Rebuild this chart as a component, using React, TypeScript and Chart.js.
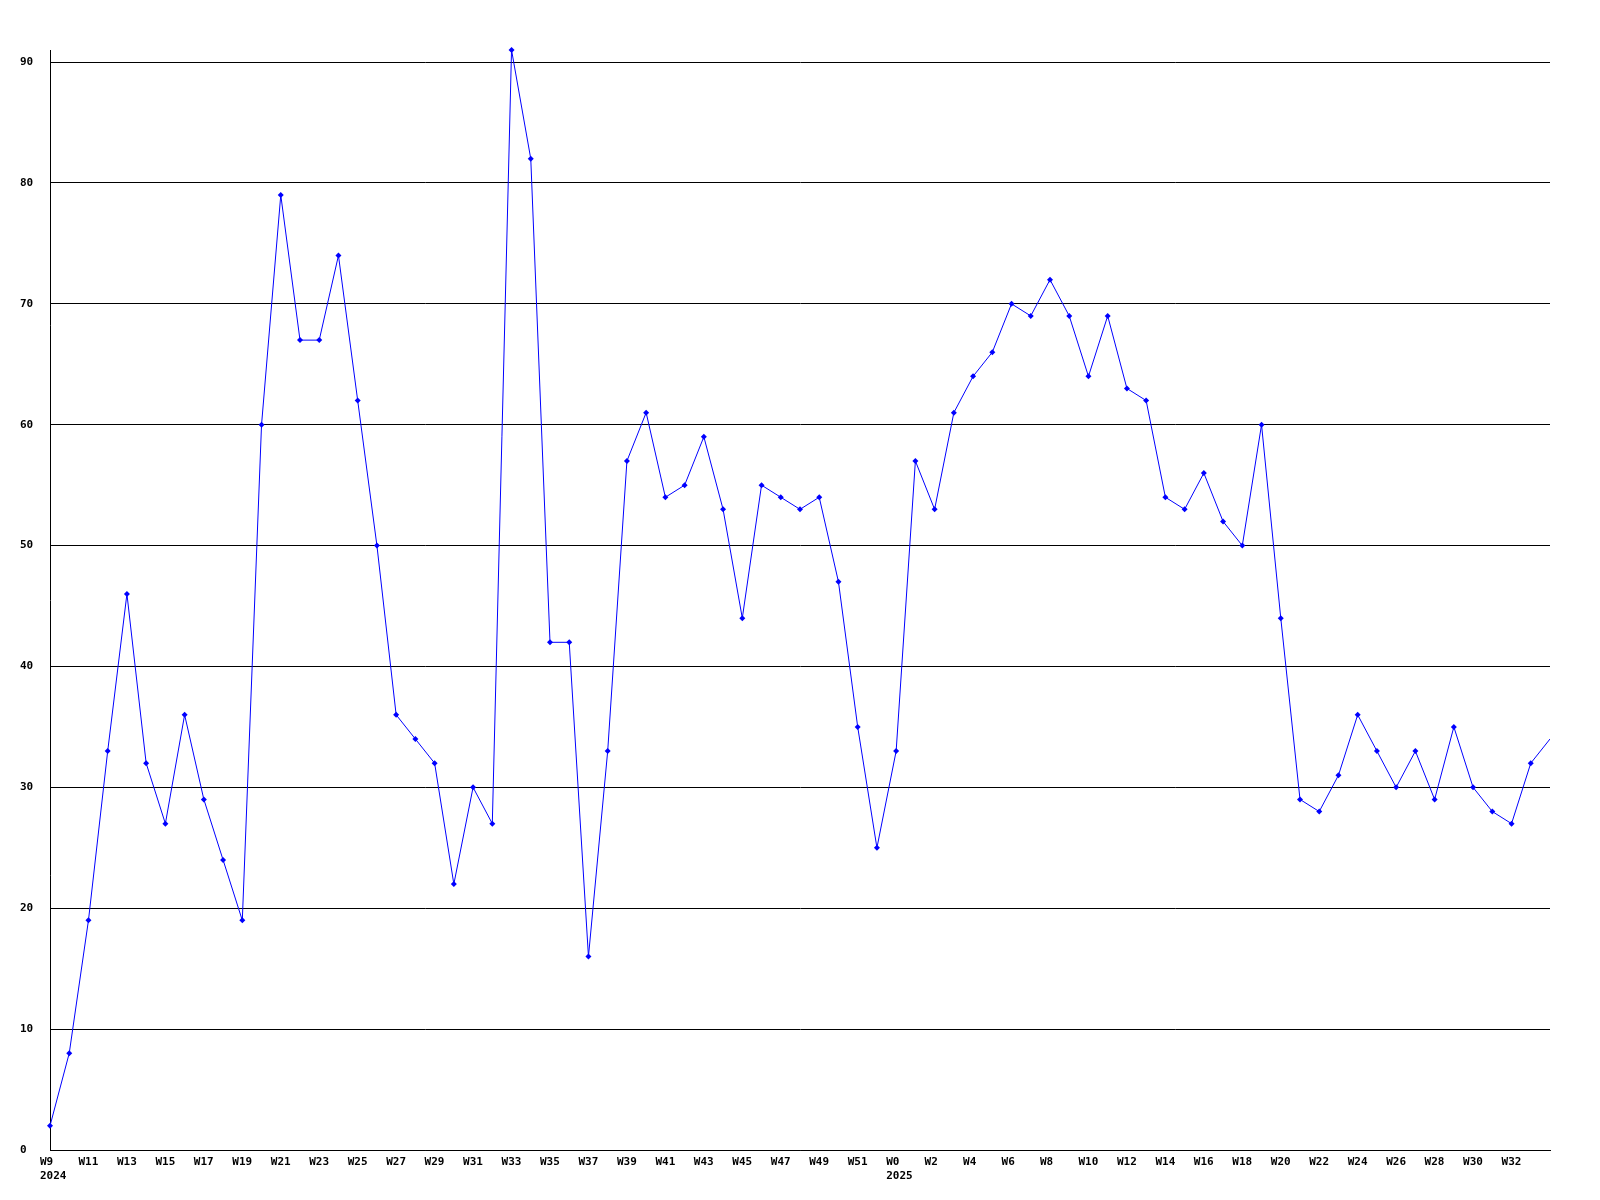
import React, { useEffect, useRef } from "react";
import { Chart, registerables } from "chart.js";

Chart.register(...registerables);

const weeks2024 = [
  "W9", "W10", "W11", "W12", "W13", "W14", "W15", "W16", "W17", "W18",
  "W19", "W20", "W21", "W22", "W23", "W24", "W25", "W26", "W27", "W28",
  "W29", "W30", "W31", "W32", "W33", "W34", "W35", "W36", "W37", "W38",
  "W39", "W40", "W41", "W42", "W43", "W44", "W45", "W46", "W47", "W48",
  "W49", "W50", "W51", "W52",
];
const weeks2025 = [
  "W0", "W1", "W2", "W3", "W4", "W5", "W6", "W7", "W8", "W9",
  "W10", "W11", "W12", "W13", "W14", "W15", "W16", "W17", "W18", "W19",
  "W20", "W21", "W22", "W23", "W24", "W25", "W26", "W27", "W28", "W29",
  "W30", "W31", "W32", "W33", "W34",
];
const values2024 = [
  2, 8, 19, 33, 46, 32, 27, 36, 29, 24,
  19, 60, 79, 67, 67, 74, 62, 50, 36, 34,
  32, 22, 30, 27, 91, 82, 42, 42, 16, 33,
  57, 61, 54, 55, 59, 53, 44, 55, 54, 53,
  54, 47, 35, 25,
];
const values2025 = [
  33, 57, 53, 61, 64, 66, 70, 69, 72, 69,
  64, 69, 63, 62, 54, 53, 56, 52, 50, 60,
  44, 29, 28, 31, 36, 33, 30, 33, 29, 35,
  30, 28, 27, 32, 34,
];
const yearLabels = ["2024", "2025"];
const yTicks = [0, 10, 20, 30, 40, 50, 60, 70, 80, 90];
const yMax = 91;

export default function App() {
  const ref = useRef<HTMLCanvasElement | null>(null);
  useEffect(() => {
    if (!ref.current) return;
    const labels = [...weeks2024, ...weeks2025];
    const data = [...values2024, ...values2025];
    const font = { family: "'DejaVu Sans Mono', monospace", size: 11, weight: "bold" as const, lineHeight: 1.3 };
    const chart = new Chart(ref.current, {
      type: "line",
      data: {
        labels,
        datasets: [
          {
            data,
            borderColor: "#0000ff",
            backgroundColor: "#0000ff",
            borderWidth: 1,
            tension: 0,
            clip: { left: 5, right: 0, top: 5, bottom: 0 } as any,
            pointStyle: "rectRot",
            pointRadius: (ctx: any) => (ctx.dataIndex === data.length - 1 ? 0 : 3),
            pointBorderWidth: 0,
            pointBackgroundColor: "#0000ff",
          },
        ],
      },
      options: {
        animation: false,
        responsive: false,
        layout: { padding: { left: 20, right: 50, top: 50, bottom: 0 } },
        plugins: { legend: { display: false }, tooltip: { enabled: false } },
        scales: {
          x: {
            type: "category",
            offset: false,
            grid: { display: false, drawTicks: false },
            border: { display: true, color: "#000", width: 1 },
            afterFit: (s: any) => {
              s.height = 50;
            },
            ticks: {
              autoSkip: false,
              maxRotation: 0,
              minRotation: 0,
              align: "start",
              labelOffset: -10,
              padding: 5,
              color: "#000",
              font,
              callback: (_v: any, i: number) => {
                if (i % 2 !== 0 || i === labels.length - 1) return "";
                if (i === 0) return [labels[i], yearLabels[0]];
                if (i === weeks2024.length) return [labels[i], yearLabels[1]];
                return labels[i];
              },
            },
          },
          y: {
            min: 0,
            max: yMax,
            afterBuildTicks: (axis: any) => {
              axis.ticks = yTicks.map((v) => ({ value: v }));
            },
            afterFit: (s: any) => {
              s.width = 30;
            },
            grid: { color: "#000", lineWidth: 1, drawTicks: false },
            border: { display: true, color: "#000", width: 1 },
            ticks: {
              crossAlign: "far",
              padding: 0,
              color: "#000",
              font,
            },
          },
        },
      },
    });
    return () => chart.destroy();
  }, []);
  return (
    <div style={{ position: "absolute", left: 0, top: 0, width: 1600, height: 1200, background: "#fff" }}>
      <canvas ref={ref} width={1600} height={1200} style={{ width: 1600, height: 1200 }} />
    </div>
  );
}
